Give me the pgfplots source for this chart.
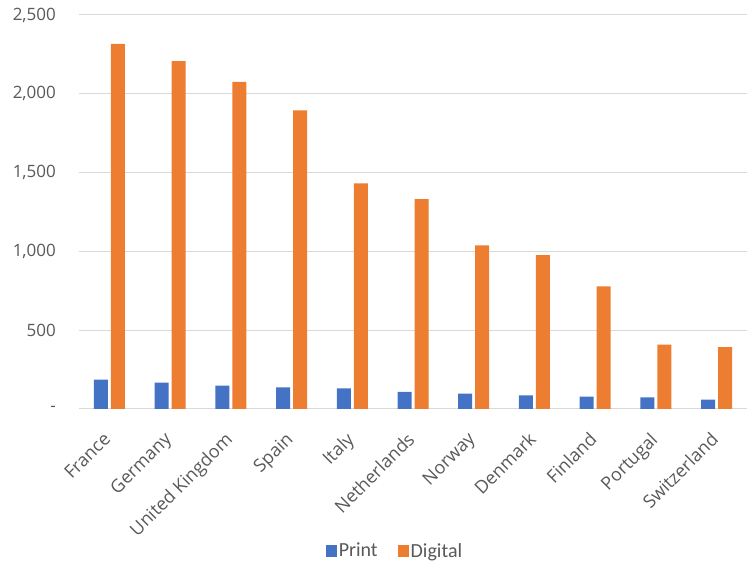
\documentclass[border=0pt]{standalone}
\usepackage{pgfplots}
\pgfplotsset{compat=1.18}
\usepackage{fontspec}
\setmainfont{Open Sans}
\newfontfamily\calib{Carlito}
\definecolor{cblue}{HTML}{4472C4}
\definecolor{corange}{HTML}{ED7D31}
\definecolor{cgrid}{HTML}{D9D9D9}
\definecolor{ctext}{HTML}{595959}
\begin{document}
\begin{tikzpicture}
\useasboundingbox (0,0) rectangle (755pt,567pt);
\begin{axis}[
  at={(79pt,158pt)}, anchor=south west,
  scale only axis, width=668pt, height=394pt,
  ybar=3pt, bar width=14pt,
  xmin=-0.5, xmax=10.5, ymin=0, ymax=2500,
  xtick={0,...,10},
  xticklabels={France,Germany,United Kingdom,Spain,Italy,Netherlands,Norway,Denmark,Finland,Portugal,Switzerland},
  ytick={0,500,1000,1500,2000,2500},
  yticklabels={{-},{500},{1,000},{1,500},{2,000},{2,500}},
  major tick length=0pt,
  axis line style={draw=none},
  ymajorgrids, grid style={cgrid, line width=1pt},
  yticklabel style={text=ctext, font=\fontsize{17}{20}\selectfont, anchor=east, inner sep=0pt, xshift=-23pt},
  xticklabel style={text=ctext, font=\fontsize{18}{22}\selectfont, xshift=-7pt, yshift=-22pt, rotate=45, anchor=north east, inner sep=0pt},
  legend style={at={(0.473,-0.36)}, anchor=center, draw=none, legend columns=2,
    font=\calib\fontsize{20}{22}\selectfont, text=ctext,
    /tikz/every even column/.append style={column sep=18pt}},
  legend image code/.code={\fill[#1] (0pt,-6.25pt) rectangle (11pt,6.25pt);},
]
\addplot[fill=cblue, draw=none] coordinates {
(0,186) (1,167) (2,148) (3,137) (4,131) (5,108) (6,97) (7,86) (8,78) (9,74) (10,59)};
\addplot[fill=corange, draw=none] coordinates {
(0,2316) (1,2208) (2,2075) (3,1895) (4,1431) (5,1332) (6,1038) (7,977) (8,778) (9,408) (10,393)};
\legend{Print,Digital}
\end{axis}
\end{tikzpicture}
\end{document}
